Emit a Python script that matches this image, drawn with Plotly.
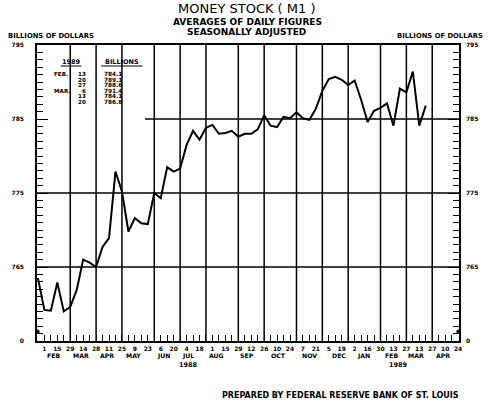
import pandas as pd
import plotly.graph_objects as go

# ---------------- data ----------------
week_start = "1988-01-25"
m1_values = [
    763.5, 759.2, 759.1, 762.9, 759.0, 759.6, 761.9, 766.0, 765.6, 765.0,
    767.7, 768.9, 777.9, 775.2, 769.8, 771.6, 770.9, 770.8, 775.0, 774.3,
    778.5, 777.9, 778.3, 781.5, 783.4, 782.2, 783.8, 784.2, 783.0, 783.1,
    783.4, 782.6, 783.0, 783.0, 783.6, 785.5, 784.1, 783.9, 785.3, 785.1,
    785.9, 785.1, 784.9, 786.4, 788.8, 790.4, 790.7, 790.3, 789.6, 790.2,
    787.6, 784.6, 786.1, 786.5, 787.1, 784.1, 789.1, 788.6, 791.4, 784.1,
    786.8,
]
dates = pd.date_range(week_start, periods=len(m1_values), freq="7D")

y_tick_vals = [755, 765, 775, 785, 795]
y_tick_text = ["0", "765", "775", "785", "795"]

x_tick_dates = pd.date_range("1988-01-25", "1989-04-24", freq="7D")
label_start = pd.Timestamp("1988-02-01")
x_tick_text = [str(d.day) if ((d - label_start).days % 14 == 0 and d >= label_start) else ""
               for d in x_tick_dates]

month_lines = ["1988-02-29", "1988-03-28", "1988-04-25", "1988-05-30", "1988-06-27",
               "1988-07-25", "1988-08-29", "1988-09-26", "1988-10-31", "1988-11-28",
               "1988-12-26", "1989-01-30", "1989-02-27", "1989-03-27"]
month_names = ["FEB", "MAR", "APR", "MAY", "JUN", "JUL", "AUG", "SEP", "OCT", "NOV",
               "DEC", "JAN", "FEB", "MAR", "APR"]
month_label_dates = ["1988-02-11", "1988-03-12", "1988-04-09", "1988-05-08", "1988-06-09",
                     "1988-07-06", "1988-08-05", "1988-09-07", "1988-10-11", "1988-11-14",
                     "1988-12-16", "1989-01-12", "1989-02-11", "1989-03-09", "1989-04-08"]
years = ["1988", "1989"]
year_label_dates = ["1988-07-06", "1989-02-19"]

table_year = "1989"
table_head = "BILLIONS"
table_months = ["FEB.", "", "", "MAR.", "", ""]
table_days = ["13", "20", "27", "6", "13", "20"]
table_vals = m1_values[-6:]

# ---------------- layout helpers ----------------
W, H = 490, 411
ML, MR, MT, MB = 33, 29, 45, 70
PW, PH = W - ML - MR, H - MT - MB


def px(x):
    return (x - ML) / PW


def py(y):
    return (H - MB - y) / PH


BOLD = "DejaVu Sans"
fig = go.Figure()
fig.add_trace(go.Scatter(x=dates, y=m1_values, mode="lines",
                         line=dict(color="black", width=2), hoverinfo="skip"))
fig.add_trace(go.Scatter(x=dates, y=m1_values, mode="lines", yaxis="y2",
                         line=dict(color="rgba(0,0,0,0)", width=0), hoverinfo="skip"))

tickfont = dict(family=BOLD, size=6, color="black", weight="bold")
yax_common = dict(range=[755, 795], tickvals=y_tick_vals, ticktext=y_tick_text,
                  ticks="inside", ticklen=11, tickwidth=1.3, tickcolor="black",
                  showgrid=False, zeroline=False, showline=True, linecolor="black",
                  linewidth=1.5, tickfont=tickfont,
                  minor=dict(dtick=1, tick0=755, ticks="inside", ticklen=6,
                             tickwidth=1.3, tickcolor="black", showgrid=False))

fig.update_layout(
    width=W, height=H, margin=dict(l=ML, r=MR, t=MT, b=MB),
    paper_bgcolor="white", plot_bgcolor="white", showlegend=False,
    xaxis=dict(type="date", range=["1988-01-24", "1989-04-25"],
               tickvals=list(x_tick_dates), ticktext=x_tick_text,
               ticks="inside", ticklen=6, tickwidth=1.3, tickcolor="black",
               showgrid=False, zeroline=False, showline=True, mirror=True,
               linecolor="black", linewidth=1.5, tickfont=tickfont,
               ticklabelstandoff=1),
    yaxis=dict(**yax_common, side="left", ticklabelstandoff=10),
    yaxis2=dict(**yax_common, side="right", overlaying="y", ticklabelstandoff=4),
)

shapes = []
for d in month_lines:
    shapes.append(dict(type="line", xref="x", yref="paper", x0=d, x1=d, y0=0, y1=1,
                       line=dict(color="black", width=1.5)))
for v in [765, 775]:
    shapes.append(dict(type="line", xref="paper", yref="y", x0=0, x1=1, y0=v, y1=v,
                       line=dict(color="black", width=1.5)))
shapes.append(dict(type="line", xref="x", yref="y", x0="1988-05-20", x1="1989-04-25",
                   y0=785, y1=785, line=dict(color="black", width=1.5)))
# table underlines
shapes.append(dict(type="line", xref="paper", yref="paper", x0=px(57), x1=px(78),
                   y0=py(66), y1=py(66), line=dict(color="black", width=1)))
shapes.append(dict(type="line", xref="paper", yref="paper", x0=px(98), x1=px(140),
                   y0=py(66), y1=py(66), line=dict(color="black", width=1)))
# scale-break marks
for xa in [px(33.5), px(460.5)]:
    shapes.append(dict(type="circle", xref="paper", yref="paper",
                       x0=xa - 2.2 / PW, x1=xa + 2.2 / PW,
                       y0=py(334), y1=py(329.5), fillcolor="black",
                       line=dict(color="black", width=0)))
fig.update_layout(shapes=shapes)

ann = []


def text(t, x, y, size, xanchor="center", bold=True, family=BOLD):
    ann.append(dict(text=(f"<b>{t}</b>" if bold else t), x=px(x), y=py(y),
                    xref="paper", yref="paper", xanchor=xanchor, yanchor="middle",
                    showarrow=False, font=dict(family=family, size=size, color="black")))


text("MONEY STOCK ( M1 )", 246, 9, 13, bold=False)
text("AVERAGES OF DAILY FIGURES", 246, 21.5, 9)
text("SEASONALLY ADJUSTED", 245, 31.5, 9)
text("BILLIONS OF DOLLARS", 2, 35.5, 6.8, xanchor="left")
text("BILLIONS OF DOLLARS", 487, 35.5, 6.8, xanchor="right")
text("PREPARED BY FEDERAL RESERVE BANK OF ST. LOUIS", 463, 395.5, 8, xanchor="right")

text(table_year, 67.5, 62.5, 6.5)
text(table_head, 119, 62.5, 6.5)
row_y0, row_dy = 74.0, 5.5
for i, (m, d, v) in enumerate(zip(table_months, table_days, table_vals)):
    yy = row_y0 + i * row_dy
    if m:
        text(m, 48, yy, 5.6, xanchor="left")
    text(d, 85, yy, 5.6, xanchor="right")
    text(f"{v:.1f}", 98.5, yy, 5.8, xanchor="left")

for name, d in zip(month_names, month_label_dates):
    ann.append(dict(text=f"<b>{name}</b>", x=d, y=py(355.5), xref="x", yref="paper",
                    xanchor="center", yanchor="middle", showarrow=False,
                    font=dict(family=BOLD, size=6.2, color="black")))
for yr, d in zip(years, year_label_dates):
    ann.append(dict(text=f"<b>{yr}</b>", x=d, y=py(364.5), xref="x", yref="paper",
                    xanchor="center", yanchor="middle", showarrow=False,
                    font=dict(family=BOLD, size=6.5, color="black")))

fig.update_layout(annotations=ann)
fig.write_html("out.html", config={"displayModeBar": False},
               post_script="document.body.style.margin='0';")
